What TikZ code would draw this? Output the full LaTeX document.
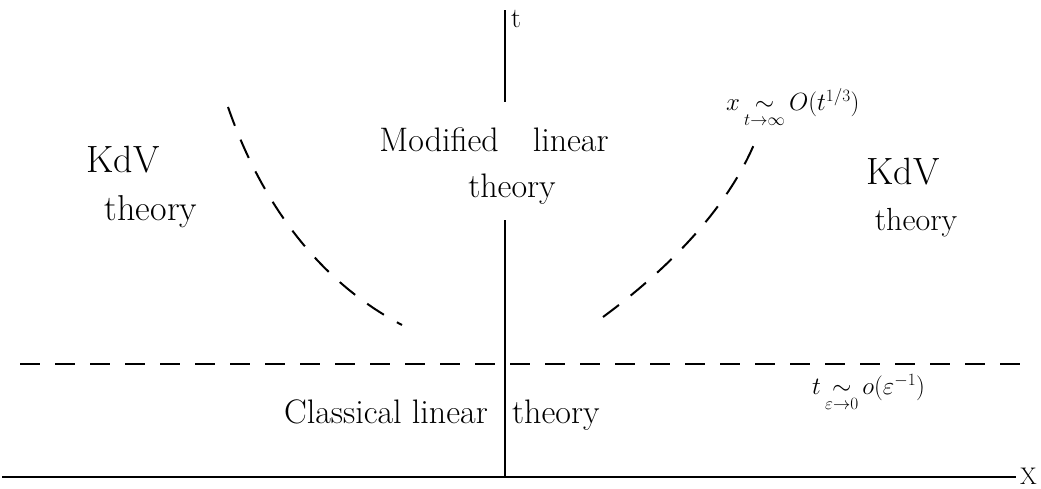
\documentclass[tikz,border=0pt]{standalone}
\usepackage{amsmath}
\tikzset{
  lbl/.style={inner sep=0pt, font=\fontsize{34}{38}\selectfont},
  small/.style={inner sep=0pt, font=\fontsize{24}{28}\selectfont},
  axis/.style={line width=1.4pt},
  dsh/.style={line width=2pt, dash pattern=on 20pt off 15pt},
}
\begin{document}
\begin{tikzpicture}[x=1pt,y=-1pt]
\useasboundingbox (0,0) rectangle (1041,489);
% axes (t axis interrupted by the central label)
\coordinate (t0) at (505,477);
\coordinate (tm) at (505,220);
\coordinate (tn) at (505,102);
\coordinate (t1) at (505,10);
\draw[axis] (t0) -- (tm);
\draw[axis] (tn) -- (t1);
\coordinate (x0) at (2,477);
\coordinate (x1) at (1016,477);
\draw[axis] (x0) -- (x1);
\node[small, font=\fontsize{28}{32}\selectfont, anchor=west] (tl) at (511,19) {t};
\node[small, anchor=east] (xl) at (1037,476) {X};
% horizontal dashed line
\coordinate (h0) at (20,364);
\coordinate (h1) at (1020,364);
\draw[dsh] (h0) -- (h1);
% dashed curves
\coordinate (l0) at (228,107);
\coordinate (l1) at (402,325);
\draw[dsh] (l0) .. controls (262,205) and (320,282) .. (l1);
\coordinate (r0) at (603,317);
\coordinate (r1) at (757,137);
\draw[dsh] (r0) .. controls (660,275) and (728,212) .. (r1);
% texts
\node[lbl, font=\fontsize{38}{42}\selectfont, anchor=base] (kdvL) at (123,173) {KdV};
\node[lbl, font=\fontsize{36}{40}\selectfont, anchor=base] (thL) at (151,220) {theory};
\node[lbl, anchor=base] (mod) at (494,152) {Modified\quad linear};
\node[lbl, anchor=base] (thM) at (512,197) {theory};
\node[lbl, font=\fontsize{38}{42}\selectfont, anchor=base] (kdvR) at (903,185) {KdV};
\node[lbl, font=\fontsize{32}{36}\selectfont, anchor=base] (thR) at (916,230) {theory};
\node[lbl, anchor=base east] (cl) at (488,423) {Classical linear};
\node[lbl, anchor=base west] (thC) at (512,423) {theory};
\node[small, anchor=north west] (xo) at (726,88) {$x\mathop{\sim}\limits_{t\to\infty} O(t^{1/3})$};
\node[small, font=\fontsize{27}{31}\selectfont, anchor=north west] (to) at (812,374) {$t\mathop{\sim}\limits_{\varepsilon\to 0} o(\varepsilon^{-1})$};
\end{tikzpicture}
\end{document}
